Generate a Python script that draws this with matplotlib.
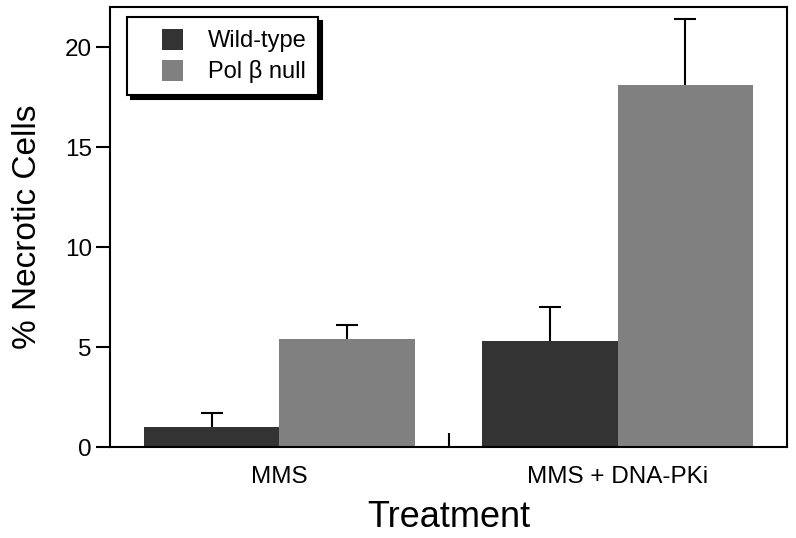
import matplotlib
matplotlib.use("Agg")
import matplotlib.pyplot as plt
from matplotlib.patches import Rectangle
from matplotlib.legend_handler import HandlerPatch
import numpy as np

categories = ["MMS", "MMS + DNA-PKi"]
series_names = ["Wild-type", "Pol \u03b2 null"]
wildtype = [1.0, 5.3]
wildtype_err = [0.7, 1.7]
polb_null = [5.4, 18.1]
polb_null_err = [0.7, 3.3]
yticks = [0, 5, 10, 15, 20]

plt.rcParams['font.family'] = ['Liberation Sans', 'DejaVu Sans']

fig = plt.figure(figsize=(7.96, 5.38), dpi=100)
ax = fig.add_axes([110/796, 1-447/538, 677/796, 440/538])

x = np.arange(len(categories))
w = 0.4
colors = ["#333333", "#808080"]
offsets = [-w/2, w/2]
for vals, errs, col, name, off in zip([wildtype, polb_null], [wildtype_err, polb_null_err],
                                      colors, series_names, offsets):
    ax.bar(x + off, vals, w, color=col, zorder=2)
    eb = ax.errorbar(x + off, vals, yerr=[np.zeros(len(vals)), errs], fmt='none',
                     ecolor='black', elinewidth=1.5, capsize=8, capthick=1.5, zorder=1)
    for c in eb[1]:
        if np.allclose(c.get_ydata(), vals):
            c.set_visible(False)

ax.set_xlim(-0.5, 1.5)
ax.set_ylim(0, 22)
ax.set_yticks(yticks)
ax.set_xticks(x)
ax.set_xticklabels(categories)
ax.set_xticks([0.5], minor=True)
ax.tick_params(axis='x', which='major', length=0, pad=14, labelsize=17.5)
ax.tick_params(axis='x', which='minor', direction='in', length=10, width=1.5)
ax.tick_params(axis='y', which='major', direction='out', length=10, width=1.5, labelsize=17.5, pad=3)
for s in ax.spines.values():
    s.set_linewidth(1.5)

ax.set_ylabel("% Necrotic Cells", fontsize=24, labelpad=16)
ax.set_xlabel("Treatment", fontsize=26, labelpad=8)


def make_square(legend, orig_handle, xdescent, ydescent, width, height, fontsize):
    s = height
    return Rectangle((-xdescent + width - s, -ydescent), s, s)


proxies = [Rectangle((0, 0), 1, 1, facecolor=c, edgecolor='none') for c in colors]
leg = ax.legend(proxies, series_names, loc='upper left', bbox_to_anchor=(17/677, 1-10/440),
                borderaxespad=0, fontsize=17, frameon=True, fancybox=False, edgecolor='black',
                handlelength=1.87, handleheight=1.0, handletextpad=1.05, borderpad=0.5,
                labelspacing=0.3, shadow={'color': 'black', 'alpha': 1, 'ox': 3, 'oy': -3},
                handler_map={Rectangle: HandlerPatch(patch_func=make_square)})
leg.get_frame().set_linewidth(1.5)
leg.get_frame().set_alpha(1)

fig.savefig("out.png", dpi=100)
